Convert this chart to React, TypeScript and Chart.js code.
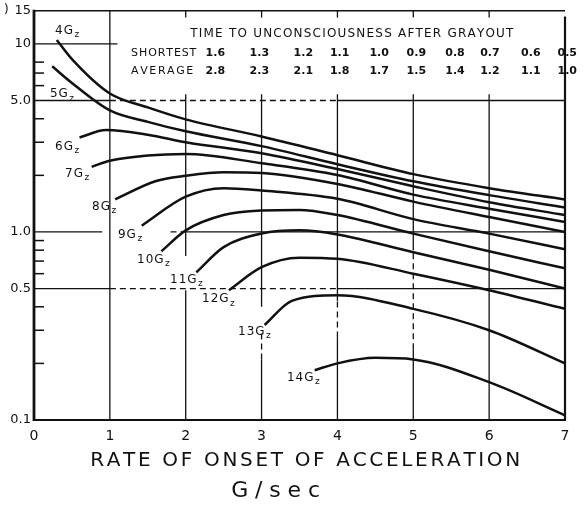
import { useEffect, useRef } from 'react';
import { Chart, registerables } from 'chart.js';

Chart.register(...registerables);

// ---------- data ----------
const curveNames = ['4', '5', '6', '7', '8', '9', '10', '11', '12', '13', '14'];

const x4 = [0.3, 0.5, 1, 1.5, 2, 3, 4, 5, 6, 7];
const y4 = [10.5, 8.3, 5.45, 4.6, 3.97, 3.22, 2.56, 2.03, 1.71, 1.49];
const x5 = [0.24, 0.5, 1, 1.5, 2, 3, 4, 5, 6, 7];
const y5 = [7.6, 6.2, 4.43, 3.85, 3.43, 2.86, 2.29, 1.86, 1.57, 1.35];
const x6 = [0.6, 0.95, 1.5, 2, 3, 4, 5, 6, 7];
const y6 = [3.18, 3.48, 3.29, 3.0, 2.62, 2.16, 1.75, 1.44, 1.23];
const x7 = [0.76, 1, 1.5, 2, 3, 4, 5, 6, 7];
const y7 = [2.22, 2.39, 2.55, 2.6, 2.32, 2.01, 1.58, 1.33, 1.13];
const x8 = [1.07, 1.6, 2, 2.5, 3, 4, 5, 6, 7];
const y8 = [1.49, 1.86, 1.99, 2.08, 2.06, 1.8, 1.45, 1.2, 1.0];
const x9 = [1.42, 2, 2.5, 3, 4, 5, 6, 7];
const y9 = [1.08, 1.54, 1.71, 1.66, 1.5, 1.17, 0.98, 0.81];
const x10 = [1.68, 2, 2.5, 3, 3.5, 4, 5, 6, 7];
const y10 = [0.79, 1.02, 1.23, 1.3, 1.31, 1.23, 0.98, 0.79, 0.64];
const x11 = [2.14, 2.5, 3, 3.5, 4, 5, 6, 7];
const y11 = [0.61, 0.83, 0.98, 1.02, 0.97, 0.78, 0.63, 0.5];
const x12 = [2.57, 3, 3.5, 4, 5, 6, 7];
const y12 = [0.49, 0.65, 0.73, 0.72, 0.6, 0.49, 0.39];
const x13 = [3.04, 3.4, 4, 5, 6, 7];
const y13 = [0.32, 0.43, 0.46, 0.39, 0.3, 0.2];
const x14 = [3.7, 4, 4.5, 5, 6, 7];
const y14 = [0.184, 0.2, 0.214, 0.21, 0.159, 0.106];

const seriesX = [x4, x5, x6, x7, x8, x9, x10, x11, x12, x13, x14];
const seriesY = [y4, y5, y6, y7, y8, y9, y10, y11, y12, y13, y14];

const xTickValues = [0, 1, 2, 3, 4, 5, 6, 7];
const yTickValues = [0.1, 0.5, 1, 5, 10, 15];
const yTickLabels = ['0.1', '0.5', '1.0', '5.0', '10', '15'];
const yMinorTicks = [0.2, 0.3, 0.4, 0.6, 0.7, 0.8, 0.9, 2, 3, 4, 6, 7, 8];

const tableTitle = 'TIME TO UNCONSCIOUSNESS AFTER GRAYOUT';
const rowNames = ['SHORTEST', 'AVERAGE'];
const shortestTimes = ['1.6', '1.3', '1.2', '1.1', '1.0', '0.9', '0.8', '0.7', '0.6', '0.5'];
const averageTimes = ['2.8', '2.3', '2.1', '1.8', '1.7', '1.5', '1.4', '1.2', '1.1', '1.0'];

const xTitle = 'RATE OF ONSET OF ACCELERATION';
const xUnit = 'G/sec';

// ---------- layout (data coordinates) ----------
const INK = '#111111';
const FAMILY = '"DejaVu Sans", sans-serif';

const labelPos: [number, number][] = [
  [0.277, 11.8], [0.21, 5.4], [0.277, 2.84], [0.41, 2.03], [0.765, 1.36],
  [1.107, 0.964], [1.358, 0.714], [1.793, 0.556], [2.215, 0.438], [2.69, 0.295], [3.335, 0.168],
];
const tableCols = [2.39, 2.97, 3.55, 4.03, 4.55, 5.04, 5.55, 6.01, 6.55, 7.03];
const tableRows = [8.9, 7.2];
const rowEnds = [2.14, 2.1];
const tableTitleY = 11.3;

// vertical grid: [x, [[yFrom, yTo, dashed]]]
const vGrid: [number, [number, number, boolean][]][] = [
  [1, [[0.1, 15, false]]],
  [2, [[13.8, 15, false], [0.1, 0.49, false], [0.745, 5.4, false]]],
  [3, [[13.8, 15, false], [0.1, 0.21, false], [0.21, 0.3, true], [0.4, 5.4, false]]],
  [4, [[13.8, 15, false], [0.1, 0.275, false], [0.275, 0.43, true], [0.43, 5.4, false]]],
  [5, [[13.8, 15, false], [0.1, 0.238, false], [0.238, 0.8, true], [0.8, 5.4, false]]],
  [6, [[13.8, 15, false], [0.1, 5.4, false]]],
];
// horizontal grid: [y, [[xFrom, xTo, dashed]]]
const hGrid: [number, [number, number, boolean][]][] = [
  [10, [[0, 1.1, false]]],
  [5, [[0, 1, false], [1, 4, true], [4, 7, false]]],
  [1, [[0, 0.9, false], [1.8, 2, true], [2, 7, false]]],
  [0.5, [[0, 1, false], [1, 4, true], [4, 7, false]]],
];

function seg(ctx: CanvasRenderingContext2D, x1: number, y1: number, x2: number, y2: number, w: number, dashed = false) {
  ctx.beginPath();
  ctx.lineWidth = w;
  ctx.setLineDash(dashed ? [6, 4] : []);
  ctx.moveTo(x1, y1);
  ctx.lineTo(x2, y2);
  ctx.stroke();
}

function spaced(ctx: CanvasRenderingContext2D, text: string, x: number, y: number, ls: number) {
  let cx = x;
  for (const ch of text) {
    ctx.fillText(ch, cx, y);
    cx += ctx.measureText(ch).width + ls;
  }
  return cx - ls;
}

function textWidth(ctx: CanvasRenderingContext2D, text: string, ls: number) {
  let w = 0;
  for (const ch of text) w += ctx.measureText(ch).width + ls;
  return w - ls;
}

function fitted(ctx: CanvasRenderingContext2D, text: string, x1: number, x2: number, y: number) {
  const base = textWidth(ctx, text, 0);
  const ls = (x2 - x1 - base) / Math.max(1, text.length - 1);
  spaced(ctx, text, x1, y, ls);
}

const decor = {
  id: 'decor',
  beforeDatasetsDraw(chart: any) {
    const { ctx, scales } = chart;
    const xs = scales.x, ys = scales.y;
    ctx.save();
    ctx.strokeStyle = INK;
    for (const [xv, parts] of vGrid) {
      const px = xs.getPixelForValue(xv);
      for (const [a, b, d] of parts) seg(ctx, px, ys.getPixelForValue(a), px, ys.getPixelForValue(b), 1.3, d);
    }
    for (const [yv, parts] of hGrid) {
      const py = ys.getPixelForValue(yv);
      for (const [a, b, d] of parts) seg(ctx, xs.getPixelForValue(a), py, xs.getPixelForValue(b), py, 1.3, d);
    }
    ctx.restore();
  },
  afterDatasetsDraw(chart: any) {
    const { ctx, scales, chartArea } = chart;
    const xs = scales.x, ys = scales.y;
    const L = xs.getPixelForValue(0), R = xs.getPixelForValue(7);
    const T = ys.getPixelForValue(15), B = ys.getPixelForValue(0.1);
    ctx.save();
    ctx.strokeStyle = INK;
    ctx.fillStyle = INK;
    // frame
    seg(ctx, L, T, R, T, 1.5);
    seg(ctx, R, ys.getPixelForValue(14), R, B + 1, 2.2);
    seg(ctx, L - 1, B, R + 1, B, 2.2);
    seg(ctx, L, T - 1, L, B + 1, 2.8);
    // minor ticks on the left axis
    for (const v of yMinorTicks) {
      const py = ys.getPixelForValue(v);
      seg(ctx, L, py, L + 10, py, 1.5);
    }
    // curve labels
    ctx.textBaseline = 'middle';
    ctx.textAlign = 'left';
    curveNames.forEach((n, i) => {
      const [lx, ly] = labelPos[i];
      const px = xs.getPixelForValue(lx), py = ys.getPixelForValue(ly);
      ctx.font = `12px ${FAMILY}`;
      const end = spaced(ctx, n + 'G', px, py, 1);
      ctx.font = `9px ${FAMILY}`;
      ctx.fillText('z', end + 1.5, py + 4);
    });
    // table
    ctx.font = `12px ${FAMILY}`;
    fitted(ctx, tableTitle, xs.getPixelForValue(2.06), xs.getPixelForValue(6.32), ys.getPixelForValue(tableTitleY));
    ctx.font = `11px ${FAMILY}`;
    rowNames.forEach((r, i) => {
      fitted(ctx, r, xs.getPixelForValue(1.28), xs.getPixelForValue(rowEnds[i]), ys.getPixelForValue(tableRows[i]));
    });
    ctx.textAlign = 'center';
    ctx.font = `bold 11px ${FAMILY}`;
    [shortestTimes, averageTimes].forEach((row, r) => {
      row.forEach((t, i) => {
        ctx.fillText(t, xs.getPixelForValue(tableCols[i]), ys.getPixelForValue(tableRows[r]));
      });
    });
    // axis title
    ctx.textAlign = 'left';
    ctx.font = `20px ${FAMILY}`;
    fitted(ctx, xTitle, xs.getPixelForValue(0.74), xs.getPixelForValue(6.41), chartArea.bottom + 41);
    ctx.font = `22px ${FAMILY}`;
    fitted(ctx, xUnit, xs.getPixelForValue(2.6), xs.getPixelForValue(3.77), chartArea.bottom + 71);
    // scan fragment at the top-left
    ctx.font = `12px ${FAMILY}`;
    ctx.fillText(')', 4, 10);
    ctx.restore();
  },
};

export default function App() {
  const ref = useRef<HTMLCanvasElement>(null);
  useEffect(() => {
    document.body.style.margin = '0';
    const chart = new Chart(ref.current as HTMLCanvasElement, {
      type: 'line',
      data: {
        datasets: seriesX.map((xsArr, i) => ({
          label: curveNames[i] + 'Gz',
          data: xsArr.map((xv, j) => ({ x: xv, y: seriesY[i][j] })),
          borderColor: INK,
          borderWidth: 2.5,
          pointRadius: 0,
          fill: false,
          cubicInterpolationMode: 'monotone' as const,
        })),
      },
      options: {
        animation: false,
        responsive: false,
        devicePixelRatio: 1,
        layout: { padding: { left: 0, right: 19, top: 7, bottom: 0 } },
        plugins: { legend: { display: false }, tooltip: { enabled: false } },
        scales: {
          x: {
            type: 'linear',
            min: 0,
            max: 7,
            grid: { display: false, drawTicks: false },
            border: { display: false },
            afterBuildTicks: (s: any) => { s.ticks = xTickValues.map((v) => ({ value: v })); },
            afterFit: (s: any) => { s.height = 95; },
            ticks: {
              color: INK,
              font: { family: FAMILY, size: 14 },
              padding: 8,
              maxRotation: 0,
              autoSkip: false,
              callback: (v: any) => String(v),
            },
          },
          y: {
            type: 'logarithmic',
            min: 0.1,
            max: 15,
            grid: { display: false, drawTicks: false },
            border: { display: false },
            afterBuildTicks: (s: any) => { s.ticks = yTickValues.map((v) => ({ value: v })); },
            afterFit: (s: any) => { s.width = 34; },
            ticks: {
              color: INK,
              font: { family: FAMILY, size: 13 },
              padding: 3,
              autoSkip: false,
              callback: (v: any) => {
                const i = yTickValues.findIndex((t) => Math.abs(t - Number(v)) < 1e-9);
                return i >= 0 ? yTickLabels[i] : '';
              },
            },
          },
        },
      },
      plugins: [decor],
    });
    return () => chart.destroy();
  }, []);
  return <canvas ref={ref} width={584} height={515} style={{ display: 'block' }} />;
}
